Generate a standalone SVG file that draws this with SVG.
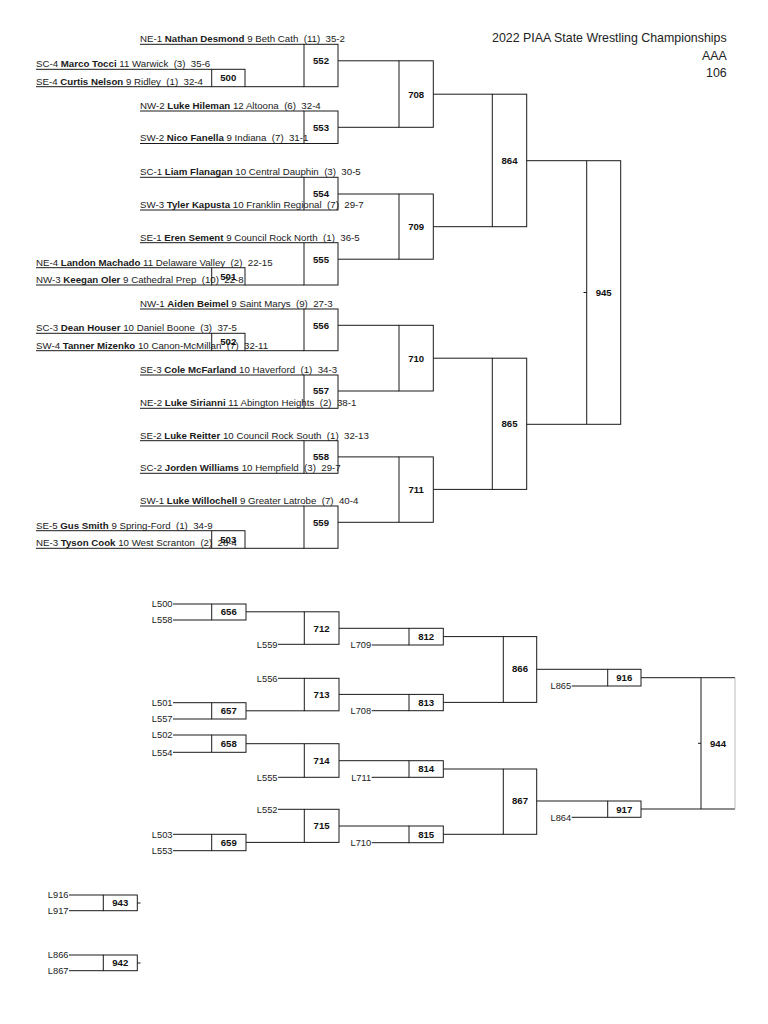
<svg xmlns="http://www.w3.org/2000/svg" width="768" height="1024" viewBox="0 0 768 1024">
<style>
.w{font-family:"Liberation Sans",Arial,sans-serif;font-size:9.7px;fill:#1a1a1a}
.b{font-weight:bold}
.n{font-family:"Liberation Sans",Arial,sans-serif;font-size:9.6px;font-weight:bold;text-anchor:middle;fill:#111}
.l{font-family:"Liberation Sans",Arial,sans-serif;font-size:9.3px;text-anchor:end;fill:#222}
.t{font-family:"Liberation Sans",Arial,sans-serif;font-size:12.4px;text-anchor:end;fill:#222}
.ln{stroke:#1a1a1a;stroke-width:1;fill:none}
.bx{stroke:#1a1a1a;stroke-width:1;fill:none}
.faint{stroke:#aaa;stroke-width:0.8;fill:none}
</style>
<rect width="768" height="1024" fill="#fff"/>
<g id="title">
<text class="t" x="726.7" y="42.3">2022 PIAA State Wrestling Championships</text>
<text class="t" x="726.7" y="60">AAA</text>
<text class="t" x="726.7" y="77.3">106</text>
</g>
<g id="entries">
<text class="w" xml:space="preserve" x="140" y="42.1">NE-1 <tspan class="b">Nathan Desmond</tspan> 9 Beth Cath  (11)  35-2</text>
<text class="w" xml:space="preserve" x="36" y="67.1">SC-4 <tspan class="b">Marco Tocci</tspan> 11 Warwick  (3)  35-6</text>
<text class="w" xml:space="preserve" x="36" y="84.5">SE-4 <tspan class="b">Curtis Nelson</tspan> 9 Ridley  (1)  32-4</text>
<text class="w" xml:space="preserve" x="140" y="108.8">NW-2 <tspan class="b">Luke Hileman</tspan> 12 Altoona  (6)  32-4</text>
<text class="w" xml:space="preserve" x="140" y="141.3">SW-2 <tspan class="b">Nico Fanella</tspan> 9 Indiana  (7)  31-1</text>
<text class="w" xml:space="preserve" x="140" y="175.1">SC-1 <tspan class="b">Liam Flanagan</tspan> 10 Central Dauphin  (3)  30-5</text>
<text class="w" xml:space="preserve" x="140" y="207.8">SW-3 <tspan class="b">Tyler Kapusta</tspan> 10 Franklin Regional  (7)  29-7</text>
<text class="w" xml:space="preserve" x="140" y="240.5">SE-1 <tspan class="b">Eren Sement</tspan> 9 Council Rock North  (1)  36-5</text>
<text class="w" xml:space="preserve" x="36" y="265.5">NE-4 <tspan class="b">Landon Machado</tspan> 11 Delaware Valley  (2)  22-15</text>
<text class="w" xml:space="preserve" x="36" y="282.8">NW-3 <tspan class="b">Keegan Oler</tspan> 9 Cathedral Prep  (10)  22-8</text>
<text class="w" xml:space="preserve" x="140" y="306.8">NW-1 <tspan class="b">Aiden Beimel</tspan> 9 Saint Marys  (9)  27-3</text>
<text class="w" xml:space="preserve" x="36" y="331.1">SC-3 <tspan class="b">Dean Houser</tspan> 10 Daniel Boone  (3)  37-5</text>
<text class="w" xml:space="preserve" x="36" y="348.5">SW-4 <tspan class="b">Tanner Mizenko</tspan> 10 Canon-McMillan  (7)  32-11</text>
<text class="w" xml:space="preserve" x="140" y="372.8">SE-3 <tspan class="b">Cole McFarland</tspan> 10 Haverford  (1)  34-3</text>
<text class="w" xml:space="preserve" x="140" y="406.1">NE-2 <tspan class="b">Luke Sirianni</tspan> 11 Abington Heights  (2)  38-1</text>
<text class="w" xml:space="preserve" x="140" y="438.5">SE-2 <tspan class="b">Luke Reitter</tspan> 10 Council Rock South  (1)  32-13</text>
<text class="w" xml:space="preserve" x="140" y="471.1">SC-2 <tspan class="b">Jorden Williams</tspan> 10 Hempfield  (3)  29-7</text>
<text class="w" xml:space="preserve" x="140" y="503.8">SW-1 <tspan class="b">Luke Willochell</tspan> 9 Greater Latrobe  (7)  40-4</text>
<text class="w" xml:space="preserve" x="36" y="528.5">SE-5 <tspan class="b">Gus Smith</tspan> 9 Spring-Ford  (1)  34-9</text>
<text class="w" xml:space="preserve" x="36" y="546.1">NE-3 <tspan class="b">Tyson Cook</tspan> 10 West Scranton  (2)  28-4</text>
</g>
<g id="connectors" class="ln">
<path d="M140 44.3H304M36 69.3H211.7M36 86.7H211.7M245 86.7H304M140 111H304M140 143.5H304"/>
<path d="M140 177.3H304M140 210H304M140 242.7H304M36 267.7H211.7M36 285H211.7M245 285H304"/>
<path d="M140 309H304M36 333.3H211.7M36 350.7H211.7M245 350.7H304M140 375H304M140 408.3H304"/>
<path d="M140 440.7H304M140 473.3H304M140 506H304M36 530.7H211.7M36 548.3H211.7M245 548.3H304"/>
<path d="M338 60.8H399M338 127.3H399M338 194H399M338 259.2H399M338 325.3H399M338 391H399M338 456.9H399M338 522.3H399"/>
<path d="M433.3 94.2H492.3M433.3 226.7H492.3M433.3 358.2H492.3M433.3 489.4H492.3"/>
<path d="M526.7 160.7H586.7M526.7 424.3H586.7M583.5 292.5H586.7"/>
<path d="M173 604H211.7M173 620H211.7M173 702.7H211.7M173 719H211.7M173 735H211.7M173 752.3H211.7M173 834.3H211.7M173 850.7H211.7"/>
<path d="M246 611.8H304.3M278 644.3H304.3M278 678.3H304.3M246 710.8H304.3M246 743.7H304.3M278 777.3H304.3M278 809.3H304.3M246 842.4H304.3"/>
<path d="M339 628.3H409M371.7 645H409M339 694.4H409M371.7 710.7H409M339 760.7H409M371.7 777.3H409M339 826H409M371.7 842.7H409"/>
<path d="M443.3 636.6H503.3M443.3 702.4H503.3M443.3 769H503.3M443.3 834.3H503.3"/>
<path d="M536.7 669.3H607.7M571.7 686H607.7M536.7 801H607.7M571.7 817.3H607.7"/>
<path d="M641 677.7H701M641 809H701M698 743.3H701"/>
<path d="M69 895H103.3M69 910.7H103.3M137.3 903H140.5M69 955H103.3M69 970.7H103.3M137.3 963H140.5"/>
</g>
<g id="m500"><rect class="bx" x="211.7" y="69.3" width="33.3" height="17.4"/><text class="n" x="228.3" y="81.4">500</text></g>
<g id="m501"><rect class="bx" x="211.7" y="267.7" width="33.3" height="17.3"/><text class="n" x="228.3" y="279.8">501</text></g>
<g id="m502"><rect class="bx" x="211.7" y="333.3" width="33.3" height="17.4"/><text class="n" x="228.3" y="345.4">502</text></g>
<g id="m503"><rect class="bx" x="211.7" y="530.7" width="33.3" height="17.6"/><text class="n" x="228.3" y="542.9">503</text></g>
<g id="m552"><rect class="bx" x="304" y="44.3" width="34" height="42.4"/><text class="n" x="321" y="64.3">552</text></g>
<g id="m553"><rect class="bx" x="304" y="111" width="34" height="32.5"/><text class="n" x="321" y="130.7">553</text></g>
<g id="m554"><rect class="bx" x="304" y="177.3" width="34" height="32.7"/><text class="n" x="321" y="197.3">554</text></g>
<g id="m555"><rect class="bx" x="304" y="242.7" width="34" height="42.3"/><text class="n" x="321" y="262.5">555</text></g>
<g id="m556"><rect class="bx" x="304" y="309" width="34" height="41.7"/><text class="n" x="321" y="328.7">556</text></g>
<g id="m557"><rect class="bx" x="304" y="375" width="34" height="33.3"/><text class="n" x="321" y="394.4">557</text></g>
<g id="m558"><rect class="bx" x="304" y="440.7" width="34" height="32.6"/><text class="n" x="321" y="460.3">558</text></g>
<g id="m559"><rect class="bx" x="304" y="506" width="34" height="42.3"/><text class="n" x="321" y="525.7">559</text></g>
<g id="m708"><rect class="bx" x="399" y="60.8" width="34.3" height="66.5"/><text class="n" x="416.2" y="97.5">708</text></g>
<g id="m709"><rect class="bx" x="399" y="194" width="34.3" height="65.2"/><text class="n" x="416.2" y="230">709</text></g>
<g id="m710"><rect class="bx" x="399" y="325.3" width="34.3" height="65.7"/><text class="n" x="416.2" y="361.6">710</text></g>
<g id="m711"><rect class="bx" x="399" y="456.9" width="34.3" height="65.4"/><text class="n" x="416.2" y="493">711</text></g>
<g id="m864"><rect class="bx" x="492.3" y="94.2" width="34.4" height="132.5"/><text class="n" x="509.5" y="164">864</text></g>
<g id="m865"><rect class="bx" x="492.3" y="358.2" width="34.4" height="131.2"/><text class="n" x="509.5" y="427.2">865</text></g>
<g id="m945"><rect class="bx" x="586.7" y="160.7" width="34" height="263.6"/><text class="n" x="603.7" y="295.9">945</text></g>
<g id="m656"><rect class="bx" x="211.7" y="604" width="34.3" height="16"/><text class="n" x="228.8" y="615.4">656</text></g>
<g id="m657"><rect class="bx" x="211.7" y="702.7" width="34.3" height="16.3"/><text class="n" x="228.8" y="714.2">657</text></g>
<g id="m658"><rect class="bx" x="211.7" y="735" width="34.3" height="17.3"/><text class="n" x="228.8" y="747.1">658</text></g>
<g id="m659"><rect class="bx" x="211.7" y="834.3" width="34.3" height="16.4"/><text class="n" x="228.8" y="845.9">659</text></g>
<g id="m712"><rect class="bx" x="304.3" y="611.8" width="34.7" height="32.5"/><text class="n" x="321.6" y="631.5">712</text></g>
<g id="m713"><rect class="bx" x="304.3" y="678.3" width="34.7" height="32.5"/><text class="n" x="321.6" y="697.9">713</text></g>
<g id="m714"><rect class="bx" x="304.3" y="743.7" width="34.7" height="33.6"/><text class="n" x="321.6" y="764">714</text></g>
<g id="m715"><rect class="bx" x="304.3" y="809.3" width="34.7" height="33.1"/><text class="n" x="321.6" y="829.4">715</text></g>
<g id="m812"><rect class="bx" x="409" y="628.3" width="34.3" height="16.7"/><text class="n" x="426.2" y="640">812</text></g>
<g id="m813"><rect class="bx" x="409" y="694.4" width="34.3" height="16.3"/><text class="n" x="426.2" y="705.9">813</text></g>
<g id="m814"><rect class="bx" x="409" y="760.7" width="34.3" height="16.6"/><text class="n" x="426.2" y="772.4">814</text></g>
<g id="m815"><rect class="bx" x="409" y="826" width="34.3" height="16.7"/><text class="n" x="426.2" y="837.7">815</text></g>
<g id="m866"><rect class="bx" x="503.3" y="636.6" width="33.4" height="65.8"/><text class="n" x="520" y="671.8">866</text></g>
<g id="m867"><rect class="bx" x="503.3" y="769" width="33.4" height="65.3"/><text class="n" x="520" y="804">867</text></g>
<g id="m916"><rect class="bx" x="607.7" y="669.3" width="33.3" height="16.7"/><text class="n" x="624.3" y="681">916</text></g>
<g id="m917"><rect class="bx" x="607.7" y="801" width="33.3" height="16.3"/><text class="n" x="624.3" y="812.6">917</text></g>
<g id="m944"><path class="bx" d="M735 677.7H701V809H735"/><path class="faint" d="M735 677.7V809"/><text class="n" x="718" y="746.7">944</text></g>
<g id="m943"><rect class="bx" x="103.3" y="895" width="34" height="15.7"/><text class="n" x="120.3" y="906.3">943</text></g>
<g id="m942"><rect class="bx" x="103.3" y="955" width="34" height="15.7"/><text class="n" x="120.3" y="966.3">942</text></g>
<g id="losers">
<text class="l" x="172.5" y="607.2">L500</text>
<text class="l" x="172.5" y="623.2">L558</text>
<text class="l" x="172.5" y="705.9">L501</text>
<text class="l" x="172.5" y="722.2">L557</text>
<text class="l" x="172.5" y="738.2">L502</text>
<text class="l" x="172.5" y="755.5">L554</text>
<text class="l" x="172.5" y="837.5">L503</text>
<text class="l" x="172.5" y="853.9">L553</text>
<text class="l" x="277.5" y="647.5">L559</text>
<text class="l" x="277.5" y="681.5">L556</text>
<text class="l" x="277.5" y="780.5">L555</text>
<text class="l" x="277.5" y="812.5">L552</text>
<text class="l" x="371.2" y="648.2">L709</text>
<text class="l" x="371.2" y="713.9">L708</text>
<text class="l" x="371.2" y="780.5">L711</text>
<text class="l" x="371.2" y="845.9">L710</text>
<text class="l" x="571.2" y="689.2">L865</text>
<text class="l" x="571.2" y="820.5">L864</text>
<text class="l" x="68.5" y="898.2">L916</text>
<text class="l" x="68.5" y="913.9">L917</text>
<text class="l" x="68.5" y="958.2">L866</text>
<text class="l" x="68.5" y="973.9">L867</text>
</g>
</svg>
